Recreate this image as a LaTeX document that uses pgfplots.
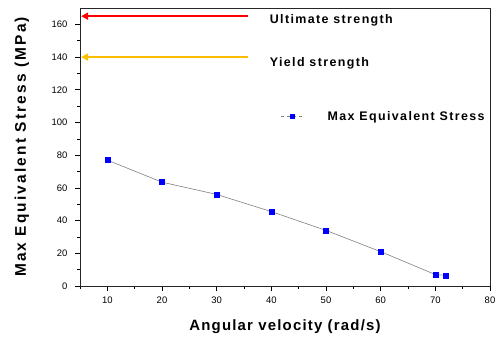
\documentclass[border=0pt]{standalone}
\usepackage{pgfplots}
\pgfplotsset{compat=1.18}
\usepackage{fontspec}
\setmainfont{Liberation Sans}
\usetikzlibrary{arrows.meta}
\definecolor{ultred}{RGB}{255,0,0}
\definecolor{yieldorange}{RGB}{255,190,0}
\definecolor{mblue}{RGB}{0,0,255}
\newcommand{\spaced}{\addfontfeature{LetterSpace=8}}
\newcommand{\wspaced}{\addfontfeature{LetterSpace=11}}
\newcommand{\yspaced}{\addfontfeature{LetterSpace=14}}
\begin{document}
\begin{tikzpicture}
\begin{axis}[
  scale only axis,
  width=410bp, height=278bp,
  xmin=5, xmax=80, ymin=0, ymax=170,
  xtick={10,20,...,80}, ytick={0,20,...,160},
  minor xtick={5,15,...,75}, minor ytick={10,30,...,150},
  tick align=outside,
  axis x line*=bottom, axis y line*=left,
  major tick length=5bp, minor tick length=3bp,
  tick style={black, line width=0.6pt},
  axis line style={line width=0.9pt, black!85},
  tick label style={font=\fontsize{9.5}{10}\selectfont},
  yticklabel style={xshift=-4bp},
  xticklabel style={yshift=-2bp},
  /pgf/number format/assume math mode=true,
  xlabel={\fontsize{15}{16}\selectfont\bfseries\spaced Angular velocity (rad/s)},
  ylabel={\fontsize{15.5}{16}\selectfont\bfseries\yspaced Max Equivalent Stress (MPa)},
  xlabel style={at={(axis description cs:0.5,0)}, anchor=center, yshift=-41bp},
  ylabel style={at={(axis description cs:0,0.5)}, anchor=center, yshift=58bp},
  legend style={draw=none, fill=none, at={(axis cs:41.2,103.5)}, anchor=west,
    font=\fontsize{12.5}{13}\selectfont\bfseries\wspaced,
    /tikz/every odd column/.append style={column sep=22bp}},
  legend image code/.code={\draw[mark repeat=2,mark phase=2,#1] plot coordinates {(0bp,0bp) (11bp,0bp) (22bp,0bp)};},
  legend cell align=left,
  clip=false,
]
\addplot[black!85, line width=0.9pt, forget plot] coordinates {(5,170) (80,170) (80,0)};
\addplot[gray, line width=0.6pt, mark=square*, mark size=2.5pt,
  mark options={mblue, draw=mblue}, forget plot] coordinates {
  (10,77) (20,63.5) (30,56) (40,45.5) (50,34) (60,21) (70,7) (72,6.5)
};
\addlegendimage{gray, dashed, line width=0.6pt, mark=square*, mark size=2pt, mark options={mblue, solid}}
\addlegendentry{Max Equivalent Stress}
\addplot[ultred, line width=2pt, -{Triangle[length=7bp,width=7bp]}, forget plot] coordinates {(35.7,165) (5.2,165)};
\addplot[yieldorange, line width=2pt, -{Triangle[length=7bp,width=7bp]}, forget plot] coordinates {(35.7,140) (5.2,140)};
\node[anchor=west, inner sep=0pt, font=\fontsize{12.5}{13}\selectfont\bfseries\wspaced] at (axis cs:39.7,162.5) {Ultimate strength};
\node[anchor=west, inner sep=0pt, font=\fontsize{12.5}{13}\selectfont\bfseries\wspaced] at (axis cs:39.7,136) {Yield strength};
\end{axis}
\pgfresetboundingbox
\path[use as bounding box] ([shift={(-80bp,-51bp)}]current axis.south west) rectangle ([shift={(10bp,8bp)}]current axis.north east);
\end{tikzpicture}
\end{document}
